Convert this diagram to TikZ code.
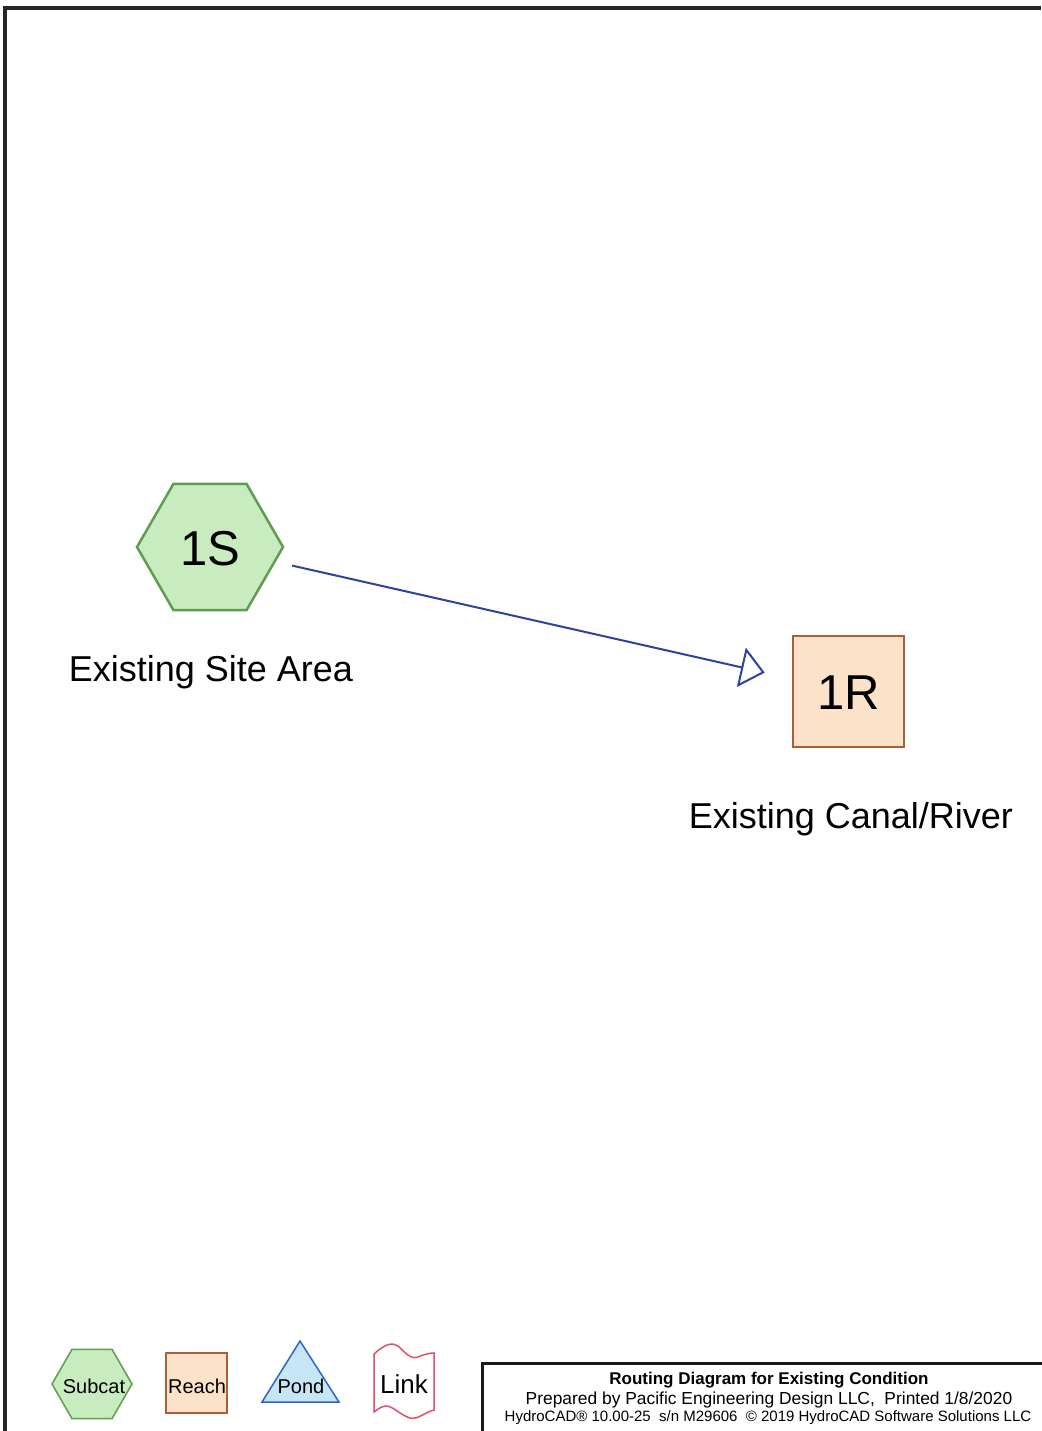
\documentclass[tikz,border=0pt]{standalone}
\usepackage{fontspec}
\setmainfont{Liberation Sans}
\usetikzlibrary{shapes.geometric,arrows.meta}
\definecolor{subfill}{HTML}{C8ECC0}
\definecolor{subdraw}{HTML}{5E9E4E}
\definecolor{reachfill}{HTML}{FCE2C8}
\definecolor{reachdraw}{HTML}{A8603A}
\definecolor{flowblue}{HTML}{2A44A0}
\definecolor{pondfill}{HTML}{C6E6F6}
\definecolor{ponddraw}{HTML}{2C66C8}
\definecolor{linkdraw}{HTML}{E0506E}
\tikzset{
  subcat/.style={regular polygon, regular polygon sides=6, fill=subfill, draw=subdraw, line width=2.5pt, inner sep=0pt, outer sep=0pt},
  reach/.style={rectangle, fill=reachfill, draw=reachdraw, line width=2pt, inner sep=0pt, outer sep=0pt},
  lbl/.style={inner sep=0pt, font=\fontsize{36}{42}\selectfont},
  idtxt/.style={font=\fontsize{49}{56}\selectfont},
  legtxt/.style={font=\fontsize{20}{24}\selectfont},
  flow/.style={draw=flowblue, line width=2pt, -{Triangle[open, length=24pt, width=40pt, line width=2pt]}},
}
\begin{document}
\begin{tikzpicture}[x=1pt,y=-1pt]
\useasboundingbox (0,0) rectangle (1041,1431);
\fill[white] (0,0) rectangle (1041,1431);
% page frame
\draw[line width=3.5pt, black!85] (5,1431) -- (5,8) -- (1041,8);
% main nodes
\node[subcat, minimum size=146pt] (h1s) at (210,547) {};
\node[idtxt] (t1s) at (210,549) {1S};
\node[lbl] (l1s) at (211,672) {Existing Site Area};
\node[reach, minimum width=111pt, minimum height=111pt] (r1r) at (848.5,691.5) {};
\node[idtxt] (t1r) at (849,693) {1R};
\node[lbl] (l1r) at (851,819) {Existing Canal/River};
\draw[flow, shorten <=18pt, shorten >=29pt] (h1s) -- (r1r);
% legend
\node[subcat, line width=1.5pt, minimum size=80pt] (lsub) at (92,1384) {};
\node[legtxt] (tsub) at (94,1386) {Subcat};
\node[reach, line width=1.5pt, minimum width=61pt, minimum height=60pt] (lreach) at (196.5,1383) {};
\node[legtxt] (treach) at (197,1386) {Reach};
\draw[fill=pondfill, draw=ponddraw, line width=1.5pt] (300,1341) -- (339,1402) -- (262,1402) -- cycle;
\node[legtxt] (tpond) at (301,1386) {Pond};
\draw[draw=linkdraw, line width=1.5pt, fill=white]
  (374,1354) .. controls (385,1344) and (392,1342) .. (398,1346)
  .. controls (404,1351) and (410,1360) .. (418,1357)
  .. controls (425,1354) and (430,1353) .. (434,1353)
  -- (434,1410)
  .. controls (425,1412) and (418,1420) .. (410,1418)
  .. controls (400,1415) and (392,1405) .. (385,1406)
  .. controls (380,1407) and (377,1410) .. (374,1412) -- cycle;
\node[font=\fontsize{26}{30}\selectfont] (tlink) at (404,1384) {Link};
% title box
\draw[line width=3pt, black!90] (482,1440) -- (482,1363) -- (1050,1363);
\node[font=\fontsize{17}{20}\selectfont\bfseries] (tt1) at (769,1380) {Routing Diagram for Existing Condition};
\node[font=\fontsize{17.4}{20}\selectfont] (tt2) at (769,1400) {Prepared by Pacific Engineering Design LLC,\ \ Printed 1/8/2020};
\node[font=\fontsize{15}{18}\selectfont] (tt3) at (768,1418) {HydroCAD® 10.00-25\ \ s/n M29606\ \ © 2019 HydroCAD Software Solutions LLC};
\end{tikzpicture}
\end{document}
